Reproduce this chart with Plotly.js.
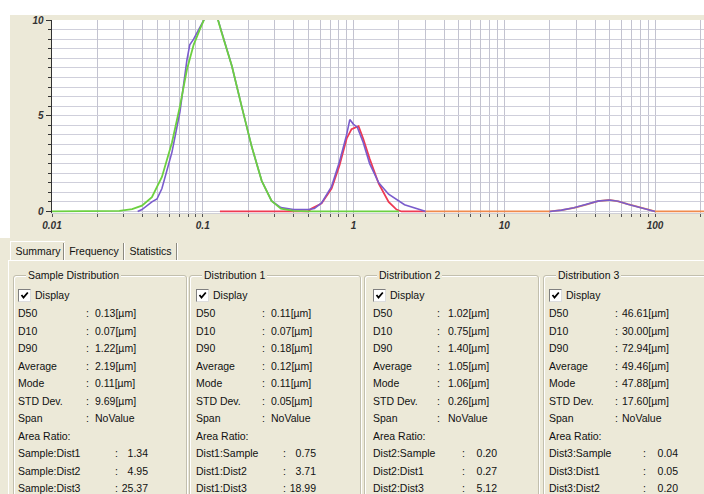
<!DOCTYPE html>
<html>
<head>
<meta charset="utf-8">
<script src="https://cdn.plot.ly/plotly-3.0.1.min.js"></script>
<style>
  html, body { margin:0; padding:0; }
  body { width:704px; height:494px; overflow:hidden; background:#ece9d8; position:relative;
         font-family:"Liberation Sans", Arial, sans-serif; font-size:10.5px; color:#111; }
  #topstrip { position:absolute; left:0; top:0; width:704px; height:15px; background:#fff; }
  #leftstrip { position:absolute; left:0; top:0; width:10px; height:238px; background:#fff; }
  #chart { position:absolute; left:11px; top:0px; width:693px; height:238px; }
  .t { position:absolute; white-space:nowrap; line-height:12px; }
  .tab { position:absolute; top:242px; height:18px; line-height:18px; text-align:center; }
  .tabsep { position:absolute; top:243px; width:1px; height:17px; background:#8c8a80; border-right:1px solid #fff; }
  #page { position:absolute; left:8px; top:260px; width:720px; height:260px; border-top:1px solid #fff; border-left:1px solid #fff; }
  .grp { position:absolute; top:275px; height:240px; border:1px solid #c2bfae; box-shadow: inset 1px 1px 0 #fff, 1px 1px 0 #fff; border-radius:3px; }
  .gtitle { position:absolute; background:#ece9d8; padding:0 2px; }
  .cb { position:absolute; width:11px; height:11px; background:#fff; border:1px solid #7f7f7f; border-right-color:#ddd; border-bottom-color:#ddd; }
  .r { text-align:right; }
</style>
</head>
<body>
<div id="topstrip"></div>
<div id="leftstrip"></div>
<div id="chart"></div>
<div id="page"></div>
<div id="panel"></div>
<script>
// ---------------- chart data ----------------
const dist1X = [0.01, 0.02, 0.028, 0.034, 0.0395, 0.046, 0.0536, 0.0625, 0.0706, 0.0785, 0.087, 0.0955, 0.103, 0.112, 0.122, 0.134, 0.156, 0.181, 0.211, 0.246, 0.286, 0.33, 0.4, 0.5, 0.7, 1, 1.5, 2];
const dist1Y = [0, 0, 0.03, 0.12, 0.3, 0.75, 1.8, 3.6, 5.5, 7.4, 8.7, 9.5, 10.1, 10.6, 10.4, 9.3, 7.6, 5.5, 3.4, 1.6, 0.55, 0.15, 0.03, 0, 0, 0, 0, 0];

const sampleX = [0.037, 0.0395, 0.046, 0.0497, 0.0536, 0.0625, 0.0706, 0.0785, 0.082, 0.087, 0.0955, 0.103, 0.112, 0.122, 0.134, 0.156, 0.181, 0.211, 0.246, 0.286, 0.33, 0.4, 0.5, 0.55, 0.614, 0.715, 0.807, 0.9, 0.945, 1.0, 1.06, 1.16, 1.28, 1.47, 1.71, 2.18, 2.95, 3.0,
                 null,
                 20, 24, 29, 35, 41.8, 49.8, 57, 66, 75, 85, 95, 100];
const sampleY = [0, 0.1, 0.5, 0.65, 1.2, 3.1, 5.2, 7.9, 8.7, 9.0, 9.6, 10.1, 10.6, 10.4, 9.3, 7.6, 5.5, 3.4, 1.6, 0.55, 0.2, 0.1, 0.1, 0.15, 0.45, 1.3, 2.6, 4.0, 4.8, 4.55, 4.4, 3.6, 2.5, 1.5, 0.9, 0.35, 0.03, 0,
                 null,
                 0, 0.07, 0.19, 0.36, 0.54, 0.6, 0.53, 0.38, 0.26, 0.14, 0.04, 0];

const dist2X = [0.13, 0.3, 0.5, 0.527, 0.614, 0.715, 0.807, 0.9, 0.97, 1.08, 1.16, 1.28, 1.47, 1.71, 1.93, 2.08, 3];
const dist2Y = [0, 0, 0, 0.15, 0.42, 1.2, 2.4, 3.8, 4.3, 4.45, 3.8, 2.75, 1.45, 0.5, 0.1, 0, 0];

const dist3X = [3, 10, 20, 24, 29, 35, 41.8, 49.8, 57, 66, 75, 85, 95, 100, 150, 220];
const dist3Y = [0, 0, 0, 0.07, 0.19, 0.36, 0.54, 0.6, 0.53, 0.38, 0.26, 0.14, 0.04, 0, 0, 0];

const xDecades = [0.01, 0.1, 1, 10, 100];
const xDecadeLabels = ['0.01', '0.1', '1', '10', '100'];
const yTickVals = [0, 5, 10];
const yTickLabels = ['0', '5', '10'];

// ---------------- summary panel data ----------------
const groupTitles = ['Sample Distribution', 'Distribution 1', 'Distribution 2', 'Distribution 3'];
const displayLabel = 'Display';
const statLabels = ['D50', 'D10', 'D90', 'Average', 'Mode', 'STD Dev.', 'Span'];
const sampleStats = ['0.13[µm]', '0.07[µm]', '1.22[µm]', '2.19[µm]', '0.11[µm]', '9.69[µm]', 'NoValue'];
const dist1Stats  = ['0.11[µm]', '0.07[µm]', '0.18[µm]', '0.12[µm]', '0.11[µm]', '0.05[µm]', 'NoValue'];
const dist2Stats  = ['1.02[µm]', '0.75[µm]', '1.40[µm]', '1.05[µm]', '1.06[µm]', '0.26[µm]', 'NoValue'];
const dist3Stats  = ['46.61[µm]', '30.00[µm]', '72.94[µm]', '49.46[µm]', '47.88[µm]', '17.60[µm]', 'NoValue'];
const areaRatioTitle = 'Area Ratio:';
const sampleRatioLabels = ['Sample:Dist1', 'Sample:Dist2', 'Sample:Dist3'];
const sampleRatios = ['1.34', '4.95', '25.37'];
const dist1RatioLabels = ['Dist1:Sample', 'Dist1:Dist2', 'Dist1:Dist3'];
const dist1Ratios = ['0.75', '3.71', '18.99'];
const dist2RatioLabels = ['Dist2:Sample', 'Dist2:Dist1', 'Dist2:Dist3'];
const dist2Ratios = ['0.20', '0.27', '5.12'];
const dist3RatioLabels = ['Dist3:Sample', 'Dist3:Dist1', 'Dist3:Dist2'];
const dist3Ratios = ['0.04', '0.05', '0.20'];
const tabNames = ['Summary', 'Frequency', 'Statistics'];

// ---------------- chart ----------------
const xTickVals = [], xTickText = [];
xDecades.forEach((d, i) => {
  for (let k = 1; k <= 9; k++) {
    const v = +(k * d).toPrecision(3);
    if (v > 210) break;
    xTickVals.push(v);
    xTickText.push(k === 1 ? xDecadeLabels[i] : '');
  }
});

const lineTrace = (x, y, color, w) => ({
  type: 'scatter', mode: 'lines', x: x, y: y, connectgaps: false,
  line: { color: color, width: w, shape: 'linear' }, hoverinfo: 'skip'
});

const traces = [
  lineTrace(dist3X, dist3Y, '#f08a4c', 1.8),
  lineTrace(dist2X, dist2Y, '#ee3a52', 1.8),
  lineTrace(sampleX, sampleY, '#7a5ccc', 1.6),
  lineTrace(dist1X, dist1Y, '#6cd040', 1.8)
];

const tickFont = { family: '"Liberation Sans", Arial, sans-serif', size: 10, color: '#333', weight: 'bold', style: 'italic' };

const layout = {
  width: 693, height: 238,
  margin: { l: 41, r: 0, t: 20, b: 25, pad: 0 },
  paper_bgcolor: 'rgba(0,0,0,0)',
  plot_bgcolor: '#ffffff',
  showlegend: false,
  xaxis: {
    type: 'log', range: [-2, 2.325],
    tickmode: 'array', tickvals: xTickVals, ticktext: xTickText,
    ticks: 'outside', ticklen: 3, tickcolor: '#555', tickwidth: 1,
    showgrid: true, gridcolor: '#c3c3d0', gridwidth: 1,
    showline: true, linecolor: '#cfcfd6', linewidth: 1,
    zeroline: false, tickfont: tickFont, fixedrange: true
  },
  yaxis: {
    range: [-0.08, 10],
    tickmode: 'array', tickvals: yTickVals, ticktext: yTickLabels,
    ticks: 'outside', ticklen: 5, tickcolor: '#333', tickwidth: 1,
    showgrid: true, gridcolor: '#cfcfdb', gridwidth: 1,
    minor: { dtick: 0.5, ticks: 'outside', ticklen: 3, tickcolor: '#333', showgrid: true, gridcolor: '#cfcfdb', gridwidth: 1 },
    showline: true, linecolor: '#333', linewidth: 1.5,
    zeroline: false, tickfont: tickFont, fixedrange: true
  }
};

Plotly.newPlot('chart', traces, layout, { staticPlot: true, displayModeBar: false });

// ---------------- panel ----------------
const panel = document.getElementById('panel');
function addText(txt, x, y, cls) {
  const d = document.createElement('div');
  d.className = 't ' + (cls || '');
  d.textContent = txt;
  d.style.left = x + 'px';
  d.style.top = (y - 6) + 'px';
  panel.appendChild(d);
  return d;
}

// tabs
const tabLefts = [10, 64, 124, 177];
tabNames.forEach((n, i) => {
  const d = document.createElement('div');
  d.className = 'tab';
  d.textContent = n;
  d.style.left = tabLefts[i] + 'px';
  d.style.width = (tabLefts[i + 1] - tabLefts[i]) + 'px';
  if (i === 0) { d.style.borderTop = '1px solid #fff'; d.style.borderLeft = '1px solid #fff'; d.style.top = '241px'; d.style.height = '19px'; }
  panel.appendChild(d);
  const s = document.createElement('div');
  s.className = 'tabsep';
  s.style.left = (tabLefts[i + 1] - 1) + 'px';
  panel.appendChild(s);
});

const groupLeft = [13, 189, 364, 543];
const groupRight = [185, 359, 537, 712];
const labelX = [18, 196, 373, 549];
const colonX = [86, 262, 437, 615];
const valueX = [95, 271, 448, 622];
const ratioColonX = [115, 283, 462, 643];
const ratioRightX = [148, 316, 497, 678];
const displayY = 295;
const rowY = [313, 330.5, 348, 365.5, 383, 400.5, 418];
const areaTitleY = 435.5;
const ratioRowY = [453, 470.5, 487.5];

const allStats = [sampleStats, dist1Stats, dist2Stats, dist3Stats];
const allRatioLabels = [sampleRatioLabels, dist1RatioLabels, dist2RatioLabels, dist3RatioLabels];
const allRatios = [sampleRatios, dist1Ratios, dist2Ratios, dist3Ratios];

groupTitles.forEach((title, g) => {
  const box = document.createElement('div');
  box.className = 'grp';
  box.style.left = groupLeft[g] + 'px';
  box.style.width = (groupRight[g] - groupLeft[g]) + 'px';
  panel.appendChild(box);

  addText(title, groupLeft[g] + 13, 275, 'gtitle');

  const cb = document.createElement('div');
  cb.className = 'cb';
  cb.style.left = labelX[g] + 'px';
  cb.style.top = (displayY - 6) + 'px';
  cb.innerHTML = '<svg width="11" height="11" viewBox="0 0 11 11" style="position:absolute;left:0;top:0"><path d="M2.5 5 L4.5 7.5 L8.8 2.5" stroke="#000" stroke-width="1.8" fill="none"/></svg>';
  panel.appendChild(cb);
  addText(displayLabel, labelX[g] + 17, displayY);

  statLabels.forEach((lab, i) => {
    addText(lab, labelX[g], rowY[i]);
    addText(':', colonX[g], rowY[i]);
    addText(allStats[g][i], valueX[g], rowY[i]);
  });
  addText(areaRatioTitle, labelX[g], areaTitleY);
  allRatioLabels[g].forEach((lab, i) => {
    addText(lab, labelX[g], ratioRowY[i]);
    addText(':', ratioColonX[g], ratioRowY[i]);
    const v = addText(allRatios[g][i], 0, ratioRowY[i], 'r');
    v.style.left = 'auto';
    v.style.right = (704 - ratioRightX[g]) + 'px';
  });
});
</script>
</body>
</html>
